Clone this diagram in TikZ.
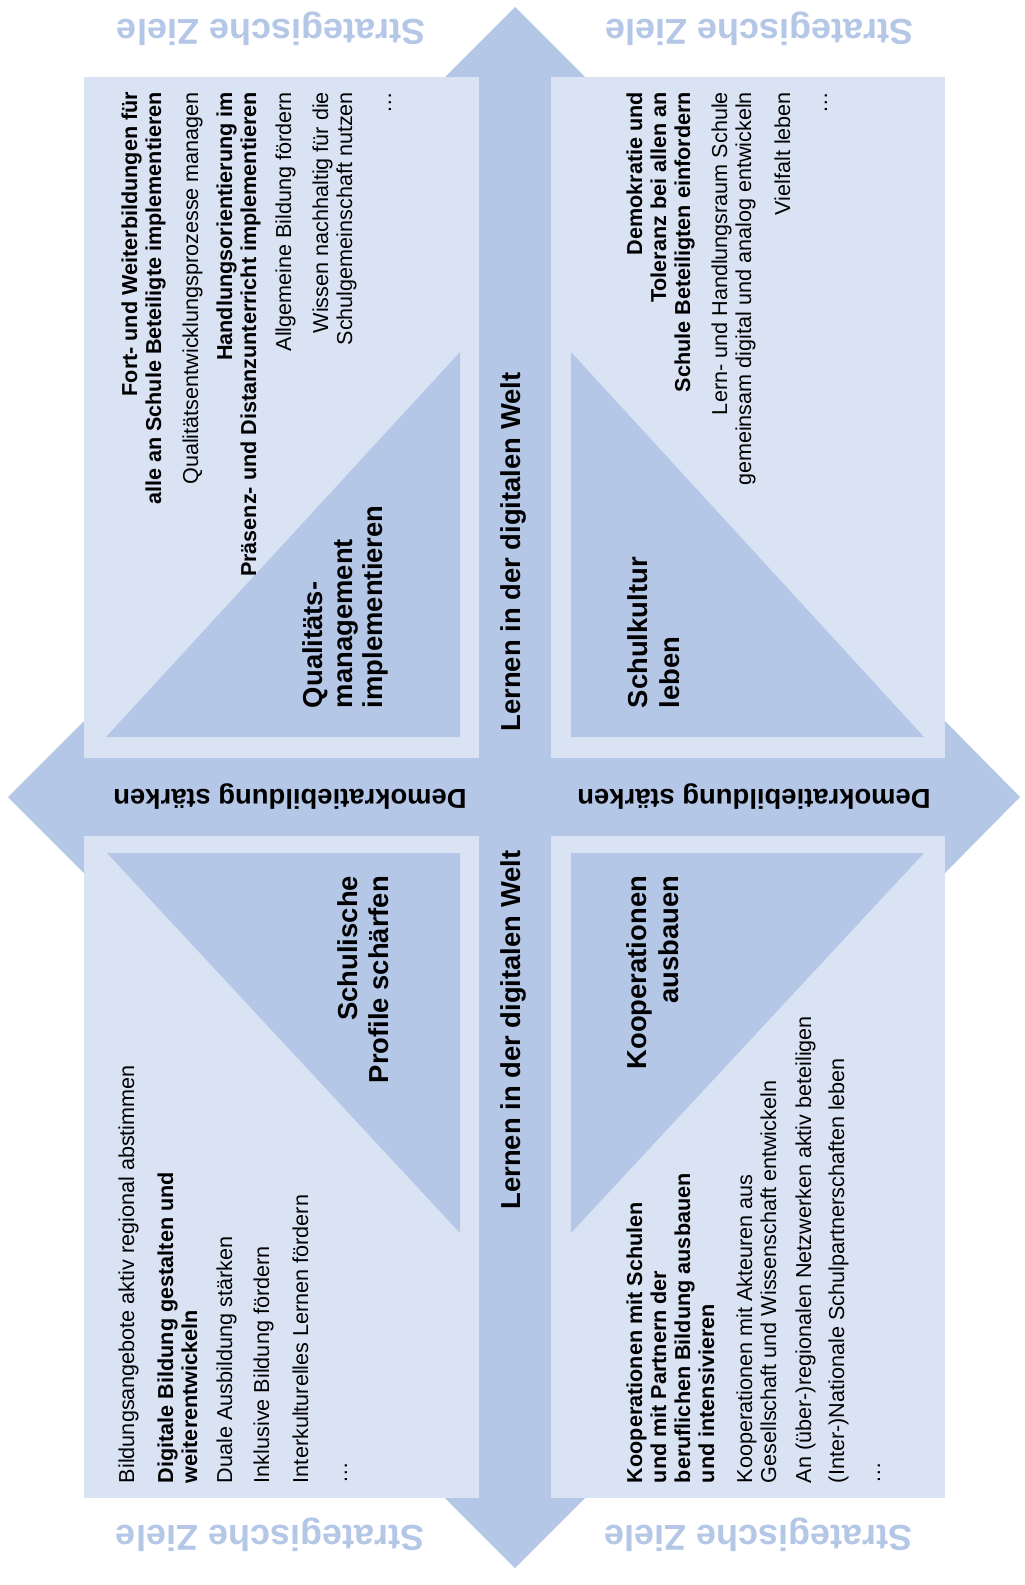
\documentclass[tikz,border=0pt]{standalone}
\usepackage{fontspec}
\setmainfont{Liberation Sans}
\definecolor{arrowblue}{HTML}{B4C7E7}
\definecolor{boxblue}{HTML}{DAE3F3}
\begin{document}
\begin{tikzpicture}[x=0.5pt,y=-0.5pt,
  txt/.style={inner sep=0pt, outer sep=0pt, text=black},
  reg/.style={txt, font=\fontsize{10.8}{13}\selectfont},
  bld/.style={txt, font=\bfseries\fontsize{10.8}{13}\selectfont},
  lbl/.style={txt, font=\bfseries\fontsize{13.7}{16}\selectfont},
  ttl/.style={txt, text=arrowblue, font=\bfseries\fontsize{18}{21}\selectfont, rotate=180},
  topal/.style={rotate=90, anchor=base east},
  botal/.style={rotate=90, anchor=base west},
  panel/.style={fill=boxblue, draw=none},
  wedge/.style={fill=arrowblue, draw=none},
]
\useasboundingbox (0,0) rectangle (1024,1585);
\fill[white] (0,0) rectangle (1024,1585);

% background cross with four arrowheads
\fill[arrowblue] (479,77) rectangle (551,1498);
\fill[arrowblue] (85,758) rectangle (944,836);
\fill[arrowblue] (515,7) -- (585,77) -- (445,77) -- cycle;
\fill[arrowblue] (515,1568) -- (585,1498) -- (445,1498) -- cycle;
\fill[arrowblue] (8,797) -- (85,720) -- (85,874) -- cycle;
\fill[arrowblue] (1020,797) -- (944,720) -- (944,874) -- cycle;

% four panels
\fill[panel] (84,77) rectangle (479,758);
\fill[panel] (551,77) rectangle (945,758);
\fill[panel] (84,836) rectangle (479,1498);
\fill[panel] (551,836) rectangle (945,1498);

% triangles
\fill[wedge] (106,737) -- (460,737) -- (460,352) -- cycle;
\fill[wedge] (571,352) -- (571,737) -- (924,737) -- cycle;
\fill[wedge] (107,853) -- (460,853) -- (460,1233) -- cycle;
\fill[wedge] (571,853) -- (924,853) -- (571,1233) -- cycle;

% titles
\node[ttl] (st1) at (271,29) {Strategische Ziele};
\node[ttl] (st2) at (759,29) {Strategische Ziele};
\node[ttl] (st3) at (270,1535) {Strategische Ziele};
\node[ttl] (st4) at (758,1535) {Strategische Ziele};

% axis labels
\node[lbl, rotate=180] (demo1) at (290,797) {Demokratiebildung stärken};
\node[lbl, rotate=180] (demo2) at (754,797) {Demokratiebildung stärken};
\node[lbl, rotate=90, anchor=base] (lern1) at (520,552) {Lernen in der digitalen Welt};
\node[lbl, rotate=90, anchor=base] (lern2) at (520,1030) {Lernen in der digitalen Welt};

% triangle labels
\node[lbl, botal] (q1) at (322,708) {Qualitäts-};
\node[lbl, botal] (q2) at (352,708) {management};
\node[lbl, botal] (q3) at (382,708) {implementieren};
\node[lbl, botal] (s1) at (647,708) {Schulkultur};
\node[lbl, botal] (s2) at (679,708) {leben};
\node[lbl, topal] (p1) at (357,876) {Schulische};
\node[lbl, topal] (p2) at (388,876) {Profile schärfen};
\node[lbl, topal] (k1) at (646,876) {Kooperationen};
\node[lbl, topal] (k2) at (678,876) {ausbauen};

% top-left panel goals
\node[bld, topal] (tl1) at (137,92) {Fort- und Weiterbildungen für};
\node[bld, topal] (tl2) at (161,92) {alle an Schule Beteiligte implementieren};
\node[reg, topal] (tl3) at (198,92) {Qualitätsentwicklungsprozesse managen};
\node[bld, topal] (tl4) at (232,92) {Handlungsorientierung im};
\node[bld, topal] (tl5) at (256,92) {Präsenz- und Distanzunterricht implementieren};
\node[reg, topal] (tl6) at (291,92) {Allgemeine Bildung fördern};
\node[reg, topal] (tl7) at (328,92) {Wissen nachhaltig für die};
\node[reg, topal] (tl8) at (352,92) {Schulgemeinschaft nutzen};
\node[reg, topal] (tl9) at (391,92) {…};

% top-right panel goals
\node[bld, topal] (tr1) at (642,92) {Demokratie und};
\node[bld, topal] (tr2) at (666,92) {Toleranz bei allen an};
\node[bld, topal] (tr3) at (690,92) {Schule Beteiligten einfordern};
\node[reg, topal] (tr4) at (727,92) {Lern- und Handlungsraum Schule};
\node[reg, topal] (tr5) at (751,92) {gemeinsam digital und analog entwickeln};
\node[reg, topal] (tr6) at (790,92) {Vielfalt leben};
\node[reg, topal] (tr7) at (827,92) {…};

% bottom-left panel goals
\node[reg, botal] (bl1) at (134,1483) {Bildungsangebote aktiv regional abstimmen};
\node[bld, botal] (bl2) at (173,1483) {Digitale Bildung gestalten und};
\node[bld, botal] (bl3) at (197,1483) {weiterentwickeln};
\node[reg, botal] (bl4) at (232,1483) {Duale Ausbildung stärken};
\node[reg, botal] (bl5) at (269,1483) {Inklusive Bildung fördern};
\node[reg, botal] (bl6) at (308,1483) {Interkulturelles Lernen fördern};
\node[reg, botal] (bl7) at (347,1483) {…};

% bottom-right panel goals
\node[bld, botal] (br1) at (642,1483) {Kooperationen mit Schulen};
\node[bld, botal] (br2) at (666,1483) {und mit Partnern der};
\node[bld, botal] (br3) at (690,1483) {beruflichen Bildung ausbauen};
\node[bld, botal] (br4) at (714,1483) {und intensivieren};
\node[reg, botal] (br5) at (752,1483) {Kooperationen mit Akteuren aus};
\node[reg, botal] (br6) at (776,1483) {Gesellschaft und Wissenschaft entwickeln};
\node[reg, botal] (br7) at (811,1483) {An (über-)regionalen Netzwerken aktiv beteiligen};
\node[reg, botal] (br8) at (844,1483) {(Inter-)Nationale Schulpartnerschaften leben};
\node[reg, botal] (br9) at (880,1483) {…};
\end{tikzpicture}
\end{document}
